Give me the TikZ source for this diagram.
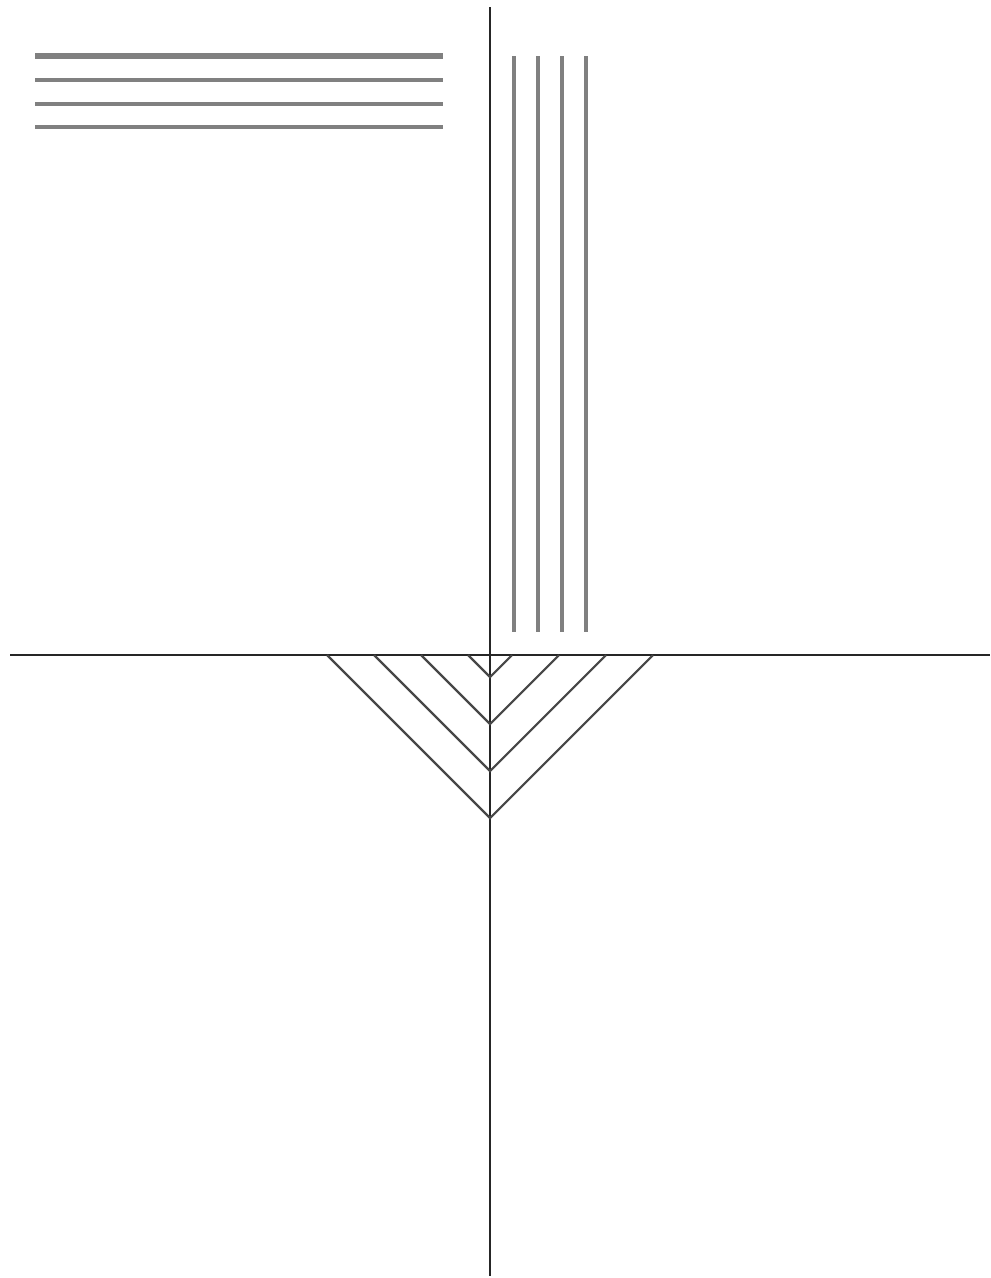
\documentclass[tikz,border=0pt]{standalone}
\usepackage{tikz}

\begin{document}
\begin{tikzpicture}[
    x=0.75pt,y=-0.75pt,
    axis/.style={draw=black!85, line width=2pt},
    hline/.style={draw=black!50, line width=2.8pt},
    vline/.style={draw=black!50, line width=2.4pt},
    vee/.style={draw=black!72, line width=1.6pt}
  ]
    \useasboundingbox (0,0) rectangle (990,1278);
    % axes
    \coordinate (top) at (490,7);
    \coordinate (bottom) at (490,1276);
    \coordinate (left) at (10,655);
    \coordinate (right) at (990,655);
    \draw[axis] (top) -- (bottom);
    \draw[axis] (left) -- (right);

    % horizontal bars, top left
    \draw[hline, line width=4.4pt] (35,56) -- (443,56);
    \foreach \y in {80,104,127}
      \draw[hline] (35,\y) -- (443,\y);

    % vertical bars, top right
    \foreach \x in {514,538,562,586}
      \draw[vline] (\x,56) -- (\x,632);

    % nested vees under the axis
    \foreach \d in {22,69,116,163}
      \draw[vee] (490-\d,655) -- (490,655+\d) -- (490+\d,655);
  \end{tikzpicture}
\end{document}
